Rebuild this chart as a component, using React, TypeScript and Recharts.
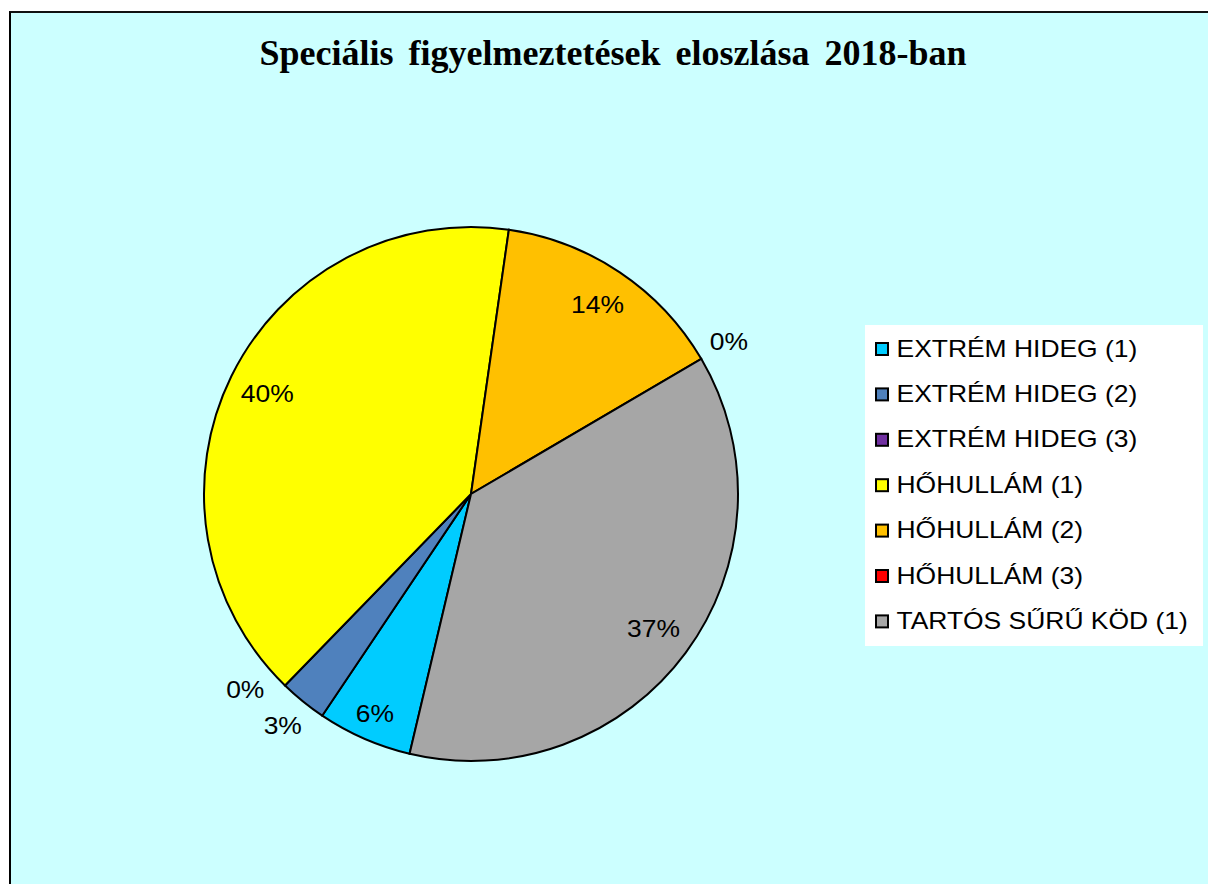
import React from "react";
import { PieChart, Pie, Cell, Legend, Customized } from "recharts";

const categories = [
  "EXTRÉM HIDEG (1)",
  "EXTRÉM HIDEG (2)",
  "EXTRÉM HIDEG (3)",
  "HŐHULLÁM (1)",
  "HŐHULLÁM (2)",
  "HŐHULLÁM (3)",
  "TARTÓS SŰRŰ KÖD (1)",
];
const counts = [2, 1, 0, 14, 5, 0, 13];
const colors = ["#00CCFF", "#4F81BD", "#7030A0", "#FFFF00", "#FFC000", "#FF0000", "#A6A6A6"];
const title = "Speciális figyelmeztetések eloszlása 2018-ban";

const data = categories.map((name, i) => ({ name, value: counts[i] }));
const total = counts.reduce((a, b) => a + b, 0);

const W = 1208;
const H = 884;
const RAD = Math.PI / 180;
const LABEL_FONT = "'Liberation Sans', Arial, sans-serif";
const SMALL = 0.045;

const renderLabel = (props: any) => {
  const { cx, cy, midAngle, startAngle, outerRadius, percent, index } = props;
  const outside = percent < SMALL;
  let angle = midAngle;
  let r = outerRadius * (percent < 0.1 ? 0.9 : 0.85);
  if (outside) {
    r = outerRadius * 1.12;
    if (index > 0) {
      const prevPct = counts[index - 1] / total;
      if (prevPct < SMALL) {
        const prevMid = startAngle + (prevPct * 360) / 2;
        if (prevMid - angle < 10) angle = prevMid - 10;
      }
    }
  }
  const x = cx + r * Math.cos(-angle * RAD);
  const y = cy + r * Math.sin(-angle * RAD);
  return (
    <text
      transform={`translate(${x},${y}) scale(1.15,1)`}
      x={0}
      y={0}
      textAnchor="middle"
      dominantBaseline="central"
      fontFamily={LABEL_FONT}
      fontSize={23}
      fill="#000"
    >
      {`${Math.round(percent * 100)}%`}
    </text>
  );
};

const LegendContent = (props: any) => {
  const payload = props.payload || [];
  return (
    <svg width={338} height={321} style={{ display: "block" }}>
      <rect x={0} y={0} width={338} height={321} fill="#FFFFFF" />
      {payload.map((entry: any, i: number) => {
        const cyRow = 24 + i * 45.4;
        return (
          <g key={i}>
            <rect x={11} y={cyRow - 6} width={12} height={12} fill={entry.color} stroke="#000" strokeWidth={2} />
            <text
              transform={`translate(31.5,${cyRow + 7.5}) scale(1.15,1)`}
              x={0}
              y={0}
              fontFamily={LABEL_FONT}
              fontSize={23}
              fill="#000"
            >
              {entry.value}
            </text>
          </g>
        );
      })}
    </svg>
  );
};

const Title = () => (
  <text
    x={613}
    y={65}
    textAnchor="middle"
    fontFamily="'Liberation Serif', 'Times New Roman', serif"
    fontWeight="bold"
    fontSize={36}
    fill="#000"
    wordSpacing={6}
  >
    {title}
  </text>
);

export default function App() {
  return (
    <div style={{ position: "relative", width: W, height: H, overflow: "hidden" }}>
      <style>{`html, body { margin: 0; padding: 0; overflow: hidden; }`}</style>
      <div
        style={{
          position: "absolute",
          left: 9,
          top: 11,
          right: 0,
          bottom: 0,
          background: "#CCFFFF",
          borderLeft: "2px solid #000",
          borderTop: "2px solid #111",
        }}
      />
      <div style={{ position: "absolute", left: 0, top: 0 }}>
        <PieChart width={W} height={H} margin={{ top: 0, right: 0, bottom: 0, left: 0 }}>
          <Customized component={Title} />
          <Pie
            data={data}
            dataKey="value"
            nameKey="name"
            cx={471}
            cy={494}
            outerRadius={267}
            startAngle={256.7}
            endAngle={-103.3}
            stroke="#000"
            strokeWidth={2}
            label={renderLabel}
            labelLine={false}
            isAnimationActive={false}
          >
            {data.map((d, i) => (
              <Cell key={d.name} fill={colors[i]} />
            ))}
          </Pie>
          <Legend
            content={<LegendContent />}
            wrapperStyle={{ position: "absolute", left: 865, top: 325, width: 338, height: 321 }}
          />
        </PieChart>
      </div>
    </div>
  );
}
